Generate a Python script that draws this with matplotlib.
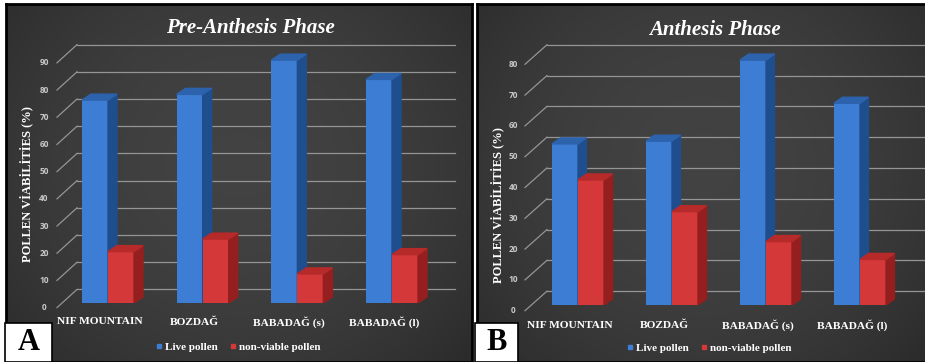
import numpy as np
import matplotlib
matplotlib.use("Agg")
import matplotlib.pyplot as plt
from matplotlib.patches import Polygon, Rectangle
from matplotlib.lines import Line2D

# data
sites = ["NIF MOUNTAIN", "BOZDAĞ", "BABADAĞ (s)", "BABADAĞ (l)"]
pre_live = [74.6, 76.7, 89.3, 82.2]
pre_dead = [18.9, 23.5, 10.7, 17.8]
ant_live = [52.3, 53.2, 79.5, 65.5]
ant_dead = [40.6, 30.3, 20.6, 14.8]
pre_ticks = list(range(0, 100, 10))
ant_ticks = list(range(0, 90, 10))

W, H = 925, 362
SERIF = "Liberation Serif"

BLUE = ("#3d7dd4", "#1f4e8e", "#2d63ad")
RED = ("#d43838", "#951f1f", "#b72a2a")


def fx(x):
    return x / W


def fy(y):
    return 1 - y / H


def background(fig, x0, x1):
    bg = fig.add_axes([fx(x0), 0, fx(x1 - x0), fy(4)])
    yy, xx = np.mgrid[0:1:200j, 0:1:300j]
    r = np.sqrt(((xx - 0.5) / 0.7) ** 2 + ((yy - 0.45) / 0.85) ** 2)
    v = 0.16 + 0.10 * np.clip(1 - r ** 2, 0, 1)
    img = np.dstack([v, v, v])
    bg.imshow(img, aspect="auto", extent=(0, 1, 0, 1))
    bg.set_xticks([])
    bg.set_yticks([])
    for s in bg.spines.values():
        s.set_color("black")
        s.set_linewidth(2)


def bar3d(ax, x, w, v, cols, dx, dy):
    front, side, top = cols
    ax.bar(x, v, width=w, align="edge", color=front, zorder=3)
    ax.add_patch(Polygon([(x + w, 0), (x + w + dx, dy), (x + w + dx, v + dy), (x + w, v)],
                         closed=True, color=side, zorder=3))
    ax.add_patch(Polygon([(x, v), (x + w, v), (x + w + dx, v + dy), (x + dx, v + dy)],
                         closed=True, color=top, zorder=3))


def panel(fig, rect, xlim, ylim, live, dead, ticks, p):
    ax = fig.add_axes(rect)
    ax.set_xlim(xlim)
    ax.set_ylim(ylim)
    ax.axis("off")
    ax.patch.set_alpha(0)

    for g in ticks:
        ax.plot([p["wall_x"], xlim[1]], [g + p["wall_dy"]] * 2, color="#959595",
                lw=0.9, zorder=1, clip_on=False)
        ax.plot([xlim[0], p["wall_x"]], [g + p["lab_dy"], g + p["wall_dy"]],
                color="#959595", lw=0.9, zorder=1, clip_on=False)
        ax.text(p["tick_x"], g + p["lab_dy"], str(g), ha="center", va="center",
                fontsize=6, color="#c8c8c8", fontweight="bold", family="Open Sans")

    w = p["bar_w"]
    for i, (lv, dv) in enumerate(zip(live, dead)):
        bar3d(ax, i - w, w, lv, BLUE, p["dx"], p["dy"])
        bar3d(ax, i, w, dv, RED, p["dx"], p["dy"])
        ax.text(i - 0.085, p["cat_y"], sites[i], ha="center", va="center",
                fontsize=8.2, color="white", fontweight="bold", family=SERIF)
    return ax


fig = plt.figure(figsize=(W / 100, H / 100), dpi=100, facecolor="white")
background(fig, 6, 472)
background(fig, 477, W + 2)

# panel A
xa = (-(108 - 57) / 94.67, (455 - 108) / 94.67)
panel(fig, [fx(57), fy(303), fx(455 - 57), 272 / H], xa, (0, 100),
      pre_live, pre_dead, pre_ticks,
      dict(wall_x=-0.327, wall_dy=5.0, lab_dy=-1.7, tick_x=-0.676,
           bar_w=0.275, dx=0.095, dy=2.2, cat_y=-6.9))

# panel B
xb = (-(578 - 525) / 94.0, (925 - 578) / 94.0)
panel(fig, [fx(525), fy(305), fx(925 - 525), 277.2 / H], xb, (0, 90),
      ant_live, ant_dead, ant_ticks,
      dict(wall_x=-0.33, wall_dy=4.5, lab_dy=-1.85, tick_x=-0.69,
           bar_w=0.277, dx=0.09, dy=1.95, cat_y=-6.5))

for title, tx, ty in [("Pre-Anthesis Phase", 250, 28), ("Anthesis Phase", 715, 30)]:
    fig.text(fx(tx), fy(ty), title, ha="center", va="center", fontsize=15,
             color="white", fontweight="bold", fontstyle="italic", family=SERIF)

for lx, ly in [(27, 184), (498, 205)]:
    fig.text(fx(lx), fy(ly), "POLLEN VİABİLİTİES (%)", ha="center", va="center",
             rotation=90, fontsize=9, color="white", fontweight="bold", family=SERIF)

handles = [Line2D([], [], marker="s", ls="", color=BLUE[0], markersize=3.5),
           Line2D([], [], marker="s", ls="", color=RED[0], markersize=3.5)]
for lx, ly in [(238, 347), (709, 348)]:
    fig.legend(handles, ["Live pollen", "non-viable pollen"], loc="center", ncol=2,
               bbox_to_anchor=(fx(lx), fy(ly)), frameon=False, labelcolor="white",
               prop=dict(family=SERIF, weight="bold", size=8),
               handlelength=0.6, handletextpad=0.3, columnspacing=1.0)

for letter, x0, x1 in [("A", 5, 52), ("B", 475, 518)]:
    fig.patches.append(Rectangle((fx(x0), 0), fx(x1 - x0), (H - 323) / H,
                                 transform=fig.transFigure, facecolor="white",
                                 edgecolor="black", lw=1.2))
    fig.text(fx((x0 + x1) / 2), fy(343), letter, ha="center", va="center",
             fontsize=22, fontweight="bold", family=SERIF, color="black")

fig.savefig("out.png", dpi=100, facecolor="white")
